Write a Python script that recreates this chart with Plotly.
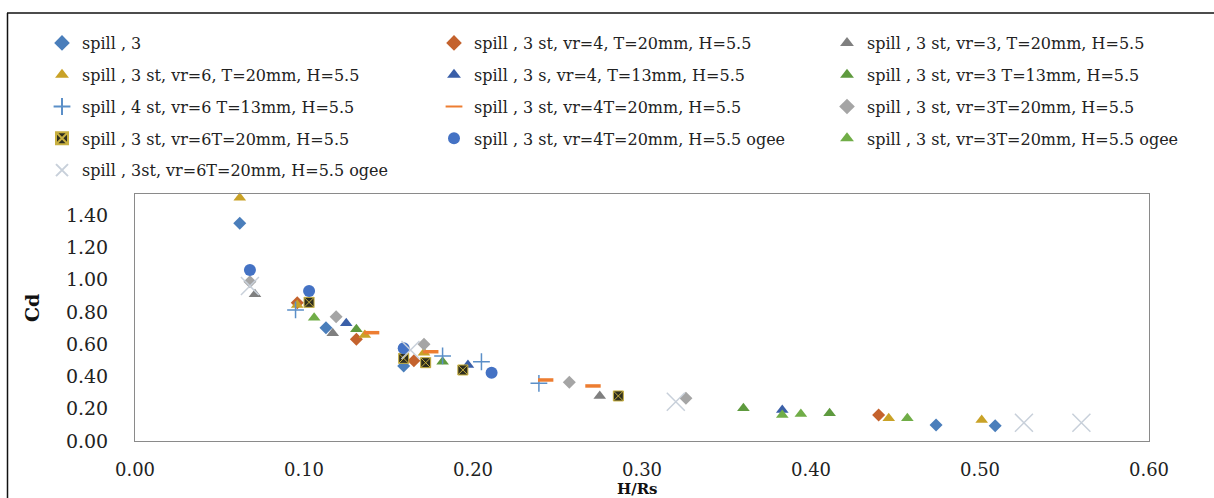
import plotly.graph_objects as go

# ---- data ----
names = [
    "spill , 3",
    "spill , 3 st, vr=4, T=20mm, H=5.5",
    "spill , 3 st, vr=3, T=20mm, H=5.5",
    "spill , 3 st, vr=6, T=20mm, H=5.5",
    "spill , 3 s, vr=4, T=13mm, H=5.5",
    "spill , 3 st, vr=3 T=13mm, H=5.5",
    "spill , 4 st, vr=6 T=13mm, H=5.5",
    "spill , 3 st, vr=4T=20mm, H=5.5",
    "spill , 3 st, vr=3T=20mm, H=5.5",
    "spill , 3 st, vr=6T=20mm, H=5.5",
    "spill , 3 st, vr=4T=20mm, H=5.5 ogee",
    "spill , 3 st, vr=3T=20mm, H=5.5 ogee",
    "spill , 3st, vr=6T=20mm, H=5.5 ogee",
]

x1 = [0.062, 0.113, 0.159, 0.474, 0.509]
y1 = [1.349, 0.702, 0.465, 0.099, 0.095]
x2 = [0.096, 0.131, 0.165, 0.440]
y2 = [0.857, 0.630, 0.497, 0.161]
x3 = [0.071, 0.117, 0.275]
y3 = [0.909, 0.667, 0.279]
x4 = [0.062, 0.096, 0.136, 0.171, 0.446, 0.501]
y4 = [1.507, 0.843, 0.657, 0.547, 0.141, 0.130]
x5 = [0.125, 0.197, 0.383]
y5 = [0.729, 0.471, 0.192]
x6 = [0.131, 0.182, 0.360, 0.411]
y6 = [0.692, 0.491, 0.203, 0.172]
x7 = [0.095, 0.182, 0.205, 0.239]
y7 = [0.812, 0.527, 0.491, 0.357]
x8 = [0.140, 0.175, 0.243, 0.271]
y8 = [0.671, 0.553, 0.378, 0.341]
x9 = [0.068, 0.119, 0.171, 0.257, 0.326]
y9 = [0.987, 0.770, 0.599, 0.364, 0.265]
x10 = [0.103, 0.159, 0.172, 0.194, 0.286]
y10 = [0.859, 0.512, 0.485, 0.440, 0.279]
x11 = [0.068, 0.103, 0.159, 0.211]
y11 = [1.059, 0.929, 0.574, 0.423]
x12 = [0.106, 0.383, 0.394, 0.457]
y12 = [0.764, 0.161, 0.167, 0.141]
x13 = [0.068, 0.163, 0.320, 0.526, 0.560]
y13 = [0.960, 0.564, 0.243, 0.113, 0.113]

xs = [x1, x2, x3, x4, x5, x6, x7, x8, x9, x10, x11, x12, x13]
ys = [y1, y2, y3, y4, y5, y6, y7, y8, y9, y10, y11, y12, y13]

x_ticks = [0.0, 0.1, 0.2, 0.3, 0.4, 0.5, 0.6]
y_ticks = [0.0, 0.2, 0.4, 0.6, 0.8, 1.0, 1.2, 1.4]

# ---- styles ----
markers = [
    dict(symbol="diamond", size=10, color="#4A7EBB"),
    dict(symbol="diamond", size=10, color="#C4622D"),
    dict(symbol="triangle-up", size=11, color="#7F7F7F"),
    dict(symbol="triangle-up", size=11, color="#C9A227"),
    dict(symbol="triangle-up", size=11, color="#3A5FA8"),
    dict(symbol="triangle-up", size=11, color="#5E9A3E"),
    dict(symbol="cross-thin", size=12, color="#5B8FC8", line=dict(color="#5B8FC8", width=1.5)),
    dict(symbol="line-ew", size=11, color="#ED7D31", line=dict(color="#ED7D31", width=3.5)),
    dict(symbol="diamond", size=10, color="#A5A5A5"),
    dict(symbol="square-x", size=10, color="#2E2E1E", line=dict(color="#C8B040", width=1)),
    dict(symbol="circle", size=12, color="#4472C4"),
    dict(symbol="triangle-up", size=11, color="#70AD47"),
    dict(symbol="x-thin", size=18, color="#C8D0DA", line=dict(color="#C8D0DA", width=1.5)),
]
legend_of = ["legend", "legend2", "legend3"] * 5

fig = go.Figure()
for i in range(13):
    fig.add_trace(go.Scatter(
        x=xs[i], y=ys[i], mode="markers", name=names[i],
        marker=markers[i], legend=legend_of[i], legendgroup=f"g{i}",
        cliponaxis=False,
    ))

FONT = "DejaVu Serif"
L, W, T, B = 135, 1014, 194, 441


def px2x(p):
    return (p - L) / W


def py2y(p):
    return (B - p) / (B - T)


leg_common = dict(orientation="v", yanchor="top", xanchor="left", y=py2y(26),
                  bgcolor="rgba(0,0,0,0)", tracegroupgap=8, itemsizing="constant",
                  font=dict(family=FONT, size=16, color="#222"))

fig.update_layout(
    width=1214, height=498,
    margin=dict(l=L, r=1214 - L - W, t=T, b=498 - B),
    paper_bgcolor="white", plot_bgcolor="white",
    showlegend=True,
    legend=dict(x=px2x(42), **leg_common),
    legend2=dict(x=px2x(434), **leg_common),
    legend3=dict(x=px2x(827), **leg_common),
    xaxis=dict(range=[0, 0.6], tickvals=x_ticks, ticktext=[f"{v:.2f}" for v in x_ticks],
               showgrid=False, zeroline=False, showline=True, mirror=True,
               linecolor="#8A8A8A", linewidth=1, ticks="", ticklabelstandoff=12,
               tickfont=dict(family=FONT, size=18, color="#222")),
    yaxis=dict(range=[0, 1.53], tickvals=y_ticks, ticktext=[f"{v:.2f}" for v in y_ticks],
               showgrid=False, zeroline=False, showline=True, mirror=True,
               linecolor="#8A8A8A", linewidth=1, ticks="", ticklabelstandoff=22,
               tickfont=dict(family=FONT, size=19, color="#222")),
    annotations=[
        dict(text="<b>Cd</b>", xref="paper", yref="paper", x=px2x(32), y=py2y(308),
             xanchor="center", yanchor="middle",
             showarrow=False, textangle=-90, font=dict(family=FONT, size=19, color="#111")),
        dict(text="<b>H/Rs</b>", xref="paper", yref="paper", x=px2x(637), y=py2y(489),
             xanchor="center", yanchor="middle",
             showarrow=False, font=dict(family=FONT, size=15, color="#111")),
    ],
    shapes=[
        dict(type="line", xref="paper", yref="paper", x0=px2x(7), x1=px2x(1214),
             y0=py2y(13), y1=py2y(13), line=dict(color="#111", width=1.5)),
        dict(type="line", xref="paper", yref="paper", x0=px2x(7.5), x1=px2x(7.5),
             y0=py2y(13), y1=py2y(498), line=dict(color="#111", width=1.5)),
    ],
)

fig.write_html("out.html")
